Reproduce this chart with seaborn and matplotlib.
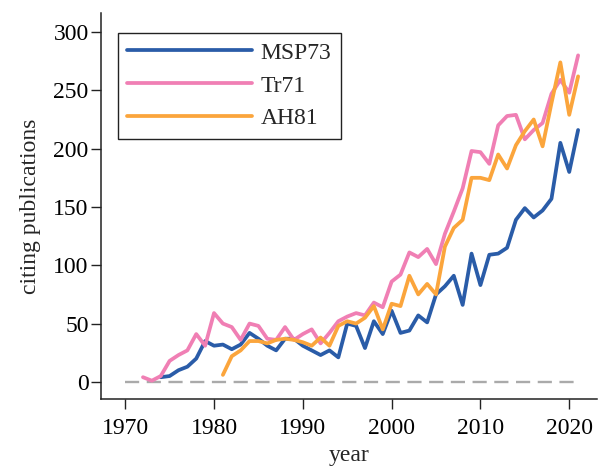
import numpy as np
import pandas as pd
import matplotlib
matplotlib.use("Agg")
import matplotlib.pyplot as plt
import seaborn as sns

# citing publications per year
msp73_years = list(range(1974, 2022))
msp73 = [4, 5, 10, 13, 20, 35, 31, 32, 28, 32,
         42, 37, 31, 27, 37, 37, 31, 27, 23, 27,
         21, 50, 48, 29, 52, 41, 61, 42, 44, 57,
         51, 75, 82, 91, 66, 110, 83, 109, 110, 115,
         139, 149, 141, 147, 157, 205, 180, 216]

tr71_years = list(range(1972, 2022))
tr71 = [4, 1, 5, 18, 23, 27, 41, 31, 59, 50,
        47, 36, 50, 48, 37, 36, 47, 36, 41, 45,
        33, 42, 52, 56, 59, 57, 68, 64, 86, 92,
        111, 107, 114, 101, 127, 146, 166, 198, 197, 187,
        220, 228, 229, 208, 216, 222, 247, 259, 248, 280]

ah81_years = list(range(1981, 2022))
ah81 = [6, 22, 27, 35, 35, 33, 36, 37, 36, 34,
        31, 38, 31, 48, 52, 50, 55, 65, 45, 67,
        65, 91, 75, 84, 75, 116, 132, 139, 175, 175,
        173, 195, 183, 203, 215, 225, 202, 239, 274, 229, 262]

series_names = ["MSP73", "Tr71", "AH81"]
colors = ["#2a5ca8", "#f07fb4", "#fba53c"]

zero_years = [1970, 2021]
zero_vals = [0, 0]


def build_frame():
    parts = []
    for name, yrs, vals in zip(series_names,
                               [msp73_years, tr71_years, ah81_years],
                               [msp73, tr71, ah81]):
        parts.append(pd.DataFrame({"year": yrs, "count": vals, "paper": name}))
    return pd.concat(parts, ignore_index=True)


def main():
    sns.set_style("ticks")
    plt.rcParams["font.family"] = ["Liberation Serif", "DejaVu Serif"]
    plt.rcParams["mathtext.fontset"] = "stix"

    df = build_frame()

    fig = plt.figure(figsize=(5.99, 4.66), dpi=100)
    ax = fig.add_axes([0.169, 0.144, 0.828, 0.828])

    ax.plot(zero_years, zero_vals, color="#aaaaaa", lw=1.7,
            dashes=(6.0, 3.2), zorder=1)

    sns.lineplot(data=df, x="year", y="count", hue="paper",
                 hue_order=series_names, palette=colors,
                 linewidth=2.7, ax=ax, zorder=2)

    ax.set_xlim(1967.3, 2023.15)
    ax.set_ylim(-14.6, 316.3)
    ax.set_xticks([1970, 1980, 1990, 2000, 2010, 2020])
    ax.set_yticks([0, 50, 100, 150, 200, 250, 300])

    sns.despine(ax=ax)
    for s in ["left", "bottom"]:
        ax.spines[s].set_linewidth(1.1)
        ax.spines[s].set_color("#222222")
    ax.tick_params(axis="both", labelsize=17, length=7, width=1.0,
                   color="#222222", labelcolor="black")
    ax.tick_params(axis="x", pad=7)
    ax.tick_params(axis="y", pad=2)

    ax.set_xlabel("year", fontsize=17, labelpad=4)
    ax.set_ylabel("citing publications", fontsize=17, labelpad=9)

    leg = ax.legend(loc="upper left", bbox_to_anchor=(0.1965, 0.9298),
                    bbox_transform=fig.transFigure, borderaxespad=0,
                    fontsize=17, handlelength=5.3, handletextpad=0.35,
                    labelspacing=0.48, borderpad=0.4, fancybox=False,
                    framealpha=1, edgecolor="#222222", title=None)
    leg.get_frame().set_linewidth(1.0)

    fig.savefig("out.png", dpi=100)
    plt.close(fig)


if __name__ == "__main__":
    main()
